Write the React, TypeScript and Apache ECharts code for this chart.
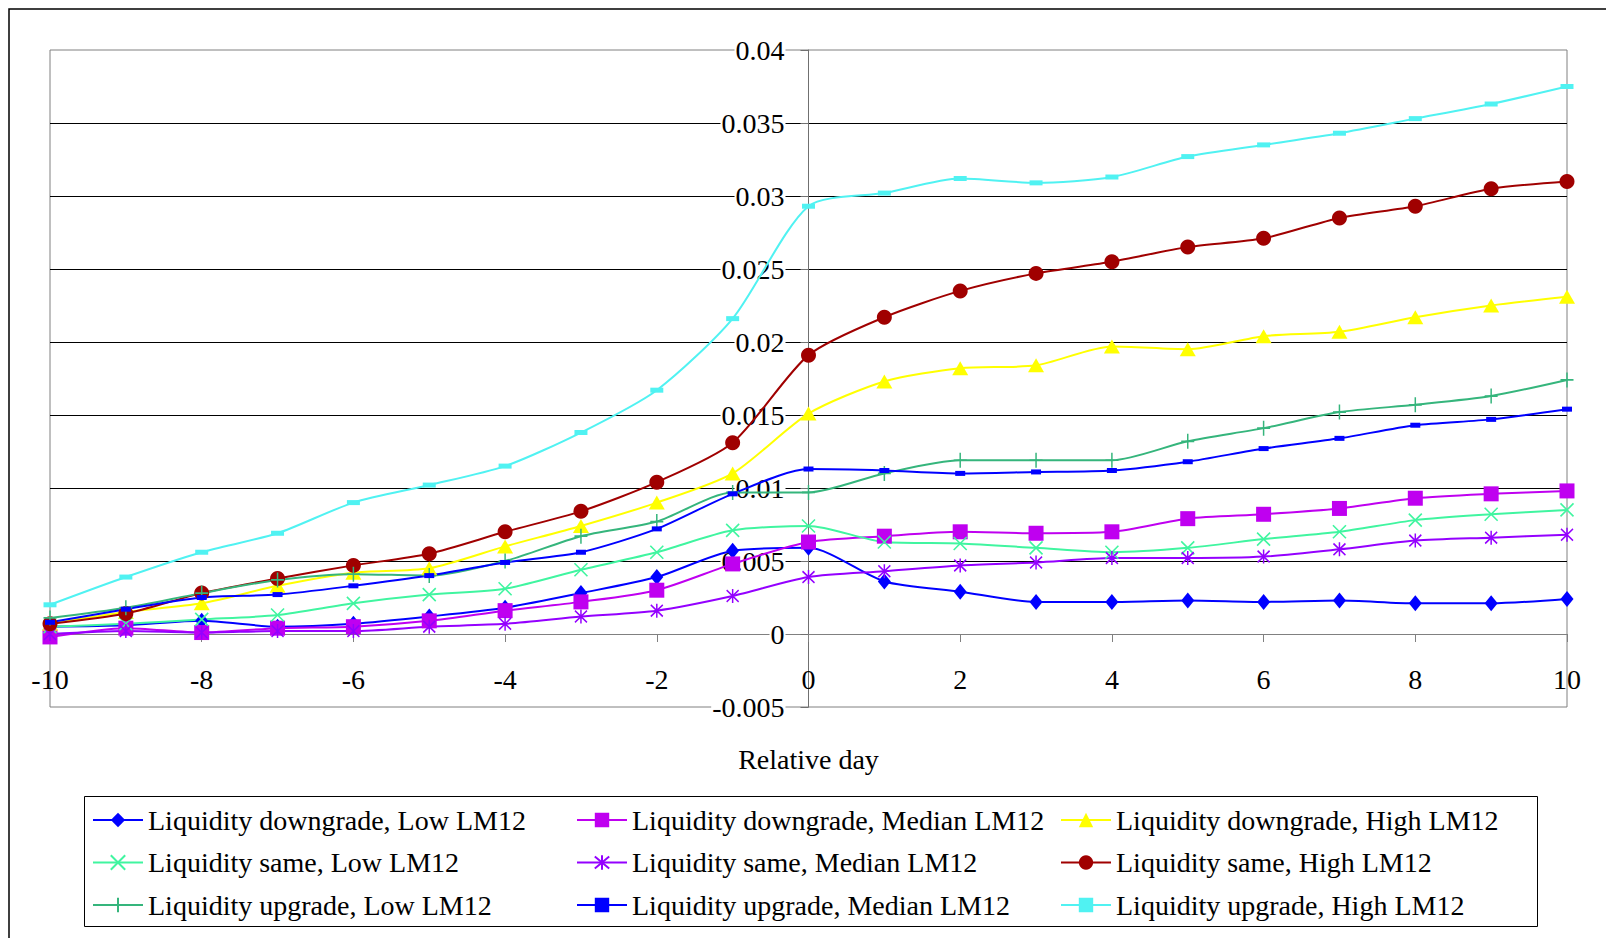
import React, { useEffect, useRef } from "react";
import * as echarts from "echarts";

// Relative days
const days = [-10, -9, -8, -7, -6, -5, -4, -3, -2, -1, 0, 1, 2, 3, 4, 5, 6, 7, 8, 9, 10];

// Series values
const downgradeLow = [0.0005, 0.0006, 0.0009, 0.0005, 0.0007, 0.0012, 0.0018, 0.0028, 0.0039, 0.0057, 0.0059, 0.0036, 0.0029, 0.0022, 0.0022, 0.0023, 0.0022, 0.0023, 0.0021, 0.0021, 0.0024];
const downgradeMedian = [-0.0002, 0.0004, 0.0001, 0.0004, 0.0005, 0.0009, 0.0016, 0.0022, 0.0030, 0.0048, 0.0063, 0.0067, 0.0070, 0.0069, 0.0070, 0.0079, 0.0082, 0.0086, 0.0093, 0.0096, 0.0098];
const downgradeHigh = [0.0007, 0.0015, 0.0021, 0.0033, 0.0042, 0.0045, 0.0060, 0.0074, 0.0090, 0.0110, 0.0151, 0.0173, 0.0182, 0.0184, 0.0197, 0.0195, 0.0204, 0.0207, 0.0217, 0.0225, 0.0231];
const sameLow = [0.0005, 0.0007, 0.0010, 0.0013, 0.0021, 0.0027, 0.0031, 0.0044, 0.0056, 0.0071, 0.0074, 0.0063, 0.0062, 0.0059, 0.0056, 0.0059, 0.0065, 0.0070, 0.0078, 0.0082, 0.0085];
const sameMedian = [0.0000, 0.0002, 0.0001, 0.0002, 0.0002, 0.0005, 0.0007, 0.0012, 0.0016, 0.0026, 0.0039, 0.0043, 0.0047, 0.0049, 0.0052, 0.0052, 0.0053, 0.0058, 0.0064, 0.0066, 0.0068];
const sameHigh = [0.0007, 0.0014, 0.0028, 0.0038, 0.0047, 0.0055, 0.0070, 0.0084, 0.0104, 0.0131, 0.0191, 0.0217, 0.0235, 0.0247, 0.0255, 0.0265, 0.0271, 0.0285, 0.0293, 0.0305, 0.0310];
const upgradeLow = [0.0011, 0.0018, 0.0028, 0.0037, 0.0041, 0.0040, 0.0050, 0.0067, 0.0077, 0.0097, 0.0097, 0.0110, 0.0119, 0.0119, 0.0119, 0.0132, 0.0141, 0.0152, 0.0157, 0.0163, 0.0174];
const upgradeMedian = [0.0008, 0.0017, 0.0025, 0.0027, 0.0033, 0.0040, 0.0049, 0.0056, 0.0072, 0.0096, 0.0113, 0.0112, 0.0110, 0.0111, 0.0112, 0.0118, 0.0127, 0.0134, 0.0143, 0.0147, 0.0154];
const upgradeHigh = [0.0020, 0.0039, 0.0056, 0.0069, 0.0090, 0.0102, 0.0115, 0.0138, 0.0167, 0.0216, 0.0293, 0.0302, 0.0312, 0.0309, 0.0313, 0.0327, 0.0335, 0.0343, 0.0353, 0.0363, 0.0375];

const seriesNames = [
  "Liquidity downgrade, Low LM12",
  "Liquidity downgrade, Median LM12",
  "Liquidity downgrade, High LM12",
  "Liquidity same, Low LM12",
  "Liquidity same, Median LM12",
  "Liquidity same, High LM12",
  "Liquidity upgrade, Low LM12",
  "Liquidity upgrade, Median LM12",
  "Liquidity upgrade, High LM12",
];

const xAxisTitle = "Relative day";

export default function App() {
  const ref = useRef<HTMLDivElement>(null);

  useEffect(() => {
    if (!ref.current) return;
    const chart = echarts.init(ref.current, null, { renderer: "svg" });
    const font = "'Liberation Serif', 'Times New Roman', serif";

    const X_SYM = "path://M0,0L10,10M10,0L0,10";
    const STAR_SYM = "path://M0,1L10,11M10,1L0,11M5,0L5,12";
    const PLUS_SYM = "path://M5,0L5,10M0,5L10,5";

    const mk = (
      name: string,
      values: number[],
      color: string,
      symbol: string,
      symbolSize: number | number[],
      stroked = false
    ) => ({
      name,
      type: "line",
      data: days.map((d, i) => [d, values[i]]),
      smooth: 0.25,
      symbol,
      symbolSize,
      showAllSymbol: true,
      lineStyle: { color, width: 2 },
      itemStyle: stroked
        ? { color, borderColor: color, borderWidth: 1.6 }
        : { color },
      emphasis: { disabled: true },
    });

    const series = [
      mk(seriesNames[0], downgradeLow, "#0000FF", "diamond", [13, 16]),
      mk(seriesNames[1], downgradeMedian, "#BF00F0", "rect", 15),
      mk(seriesNames[2], downgradeHigh, "#FFFF00", "triangle", [16, 14]),
      mk(seriesNames[3], sameLow, "#40F5A0", X_SYM, 13, true),
      mk(seriesNames[4], sameMedian, "#9400FF", STAR_SYM, [12, 14], true),
      mk(seriesNames[5], sameHigh, "#A00000", "circle", 15),
      mk(seriesNames[6], upgradeLow, "#35B57C", PLUS_SYM, [13, 15], true),
      mk(seriesNames[7], upgradeMedian, "#0000FF", "rect", [10, 5]),
      mk(seriesNames[8], upgradeHigh, "#50F2F2", "rect", [13, 5]),
    ];

    const legendBase = {
      orient: "vertical",
      top: 806,
      itemWidth: 50,
      itemHeight: 18,
      itemGap: 14.5,
      padding: 0,
      selectedMode: false,
      textStyle: { fontFamily: font, fontSize: 28, color: "#000", lineHeight: 28 },
    };

    chart.setOption({
      animation: false,
      backgroundColor: "#fff",
      grid: {
        left: 50,
        right: 39,
        top: 50,
        bottom: 231,
        show: true,
        borderColor: "#808080",
        borderWidth: 1,
        backgroundColor: "transparent",
        containLabel: false,
        outerBoundsMode: "none",
      },
      xAxis: {
        type: "value",
        position: "bottom",
        offset: -73,
        min: -10,
        max: 10,
        interval: 2,
        name: xAxisTitle,
        nameLocation: "middle",
        nameGap: 111,
        nameTextStyle: { fontFamily: font, fontSize: 28, color: "#000" },
        axisLine: { show: true, onZero: false, lineStyle: { color: "#808080", width: 1 } },
        axisTick: { show: true, length: 8, lineStyle: { color: "#808080" } },
        axisLabel: {
          show: true,
          margin: 31,
          fontFamily: font,
          fontSize: 28,
          color: "#000",
          showMinLabel: true,
          showMaxLabel: true,
        },
        splitLine: { show: false },
      },
      yAxis: {
        type: "value",
        position: "left",
        offset: -758.5,
        min: -0.005,
        max: 0.04,
        interval: 0.005,
        axisLine: { show: true, onZero: false, lineStyle: { color: "#707070", width: 1 } },
        axisTick: { show: true, length: 8, lineStyle: { color: "#707070" } },
        axisLabel: {
          show: true,
          margin: 23,
          fontFamily: font,
          fontSize: 28,
          color: "#000",
          backgroundColor: "#fff",
          padding: [0, 1],
          showMinLabel: true,
          showMaxLabel: true,
          formatter: (v: number) => (Math.abs(v) < 1e-12 ? "0" : String(parseFloat(v.toFixed(4)))),
        },
        splitLine: {
          show: true,
          showMinLine: false,
          showMaxLine: false,
          lineStyle: {
            color: ["#808080", "#000", "#000", "#000", "#000", "#000", "#000", "#000"],
            width: 1,
          },
        },
      },
      legend: [
        { ...legendBase, left: 92, data: [seriesNames[0], seriesNames[3], seriesNames[6]] },
        { ...legendBase, left: 576, data: [seriesNames[1], seriesNames[4], seriesNames[7]] },
        { ...legendBase, left: 1060, data: [seriesNames[2], seriesNames[5], seriesNames[8]] },
      ],
      graphic: [
        {
          type: "rect",
          silent: true,
          shape: { x: 9, y: 9, width: 1640, height: 980 },
          style: { fill: "none", stroke: "#000", lineWidth: 1.5 },
        },
        {
          type: "rect",
          silent: true,
          shape: { x: 84.5, y: 796.5, width: 1453, height: 130 },
          style: { fill: "none", stroke: "#000", lineWidth: 1 },
        },
      ],
      series,
    });

    return () => {
      chart.dispose();
    };
  }, []);

  return (
    <div
      ref={ref}
      style={{ position: "absolute", left: 0, top: 0, width: 1606, height: 938 }}
    />
  );
}
